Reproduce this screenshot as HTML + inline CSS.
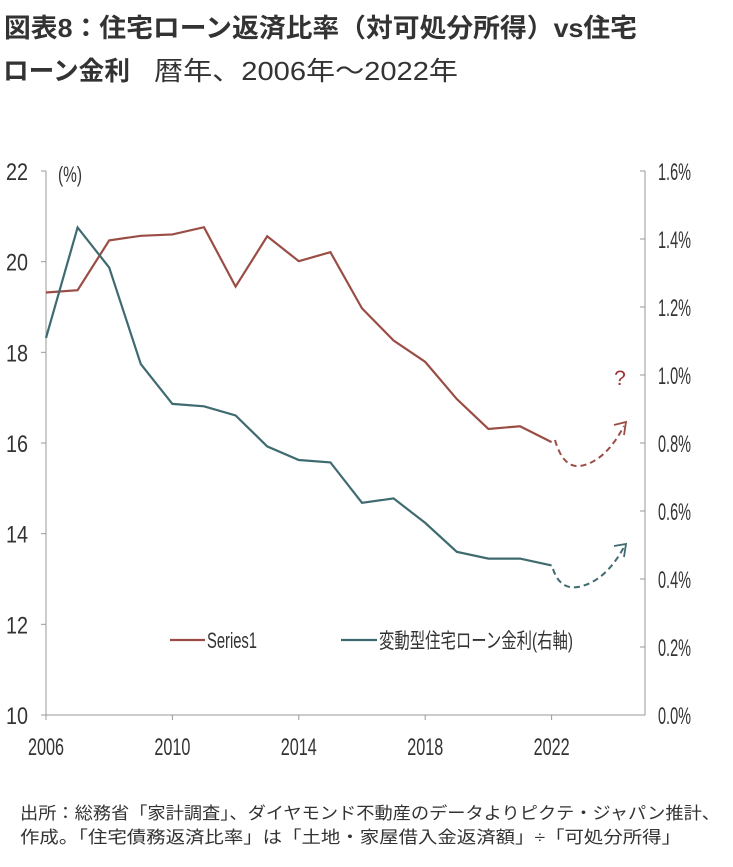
<!DOCTYPE html>
<html><head><meta charset="utf-8"><style>
body{margin:0;background:#fff;}
svg{display:block;font-family:"Liberation Sans","Noto Sans CJK JP",sans-serif;}
</style></head><body>
<svg width="733" height="867" viewBox="0 0 733 867">
<text x="4" y="37" font-size="26" font-weight="600" fill="#333" textLength="633" lengthAdjust="spacingAndGlyphs">図表8：住宅ローン返済比率（対可処分所得）vs住宅</text>
<text x="3" y="80" font-size="26" fill="#333"><tspan font-weight="600" textLength="127" lengthAdjust="spacingAndGlyphs">ローン金利</tspan><tspan x="154" textLength="304" lengthAdjust="spacingAndGlyphs">暦年、2006年～2022年</tspan></text>
<g id="plot"></g>
<text x="20" y="819" font-size="17" fill="#333" textLength="700" lengthAdjust="spacingAndGlyphs">出所：総務省「家計調査」、ダイヤモンド不動産のデータよりピクテ・ジャパン推計、</text>
<text x="20" y="843" font-size="17" fill="#333" textLength="661" lengthAdjust="spacingAndGlyphs">作成。「住宅債務返済比率」は「土地・家屋借入金返済額」÷「可処分所得」</text>
</svg>
<script>
const years=[2006,2007,2008,2009,2010,2011,2012,2013,2014,2015,2016,2017,2018,2019,2020,2021,2022];
const repaymentRatio=[19.32,19.37,20.47,20.57,20.6,20.76,19.45,20.56,20.01,20.21,18.97,18.26,17.79,16.97,16.31,16.37,16.02];
const loanRate=[1.109,1.434,1.316,1.032,0.915,0.908,0.881,0.790,0.750,0.743,0.624,0.637,0.565,0.480,0.460,0.460,0.440];
const xTicks=[2006,2010,2014,2018,2022];
const leftTicks=[10,12,14,16,18,20,22];
const rightTicks=[0,0.2,0.4,0.6,0.8,1.0,1.2,1.4,1.6];
const NS="http://www.w3.org/2000/svg";
const g=document.getElementById('plot');
const X0=46,Y0=715,Y1=171,XR=645;
const xs=y=>X0+(y-2006)*31.6;
const yl=v=>Y0-(v-10)/12*(Y0-Y1);
const yr=v=>Y0-v/1.6*(Y0-Y1);
function mk(t,a,txt){const e=document.createElementNS(NS,t);for(const k in a)e.setAttribute(k,a[k]);if(txt!=null)e.textContent=txt;g.appendChild(e);return e;}
let e=mk('line',{x1:X0,y1:Y1,x2:X0,y2:Y0,stroke:'#999','stroke-width':1});


e=mk('line',{x1:X0,y1:Y0,x2:XR,y2:Y0,stroke:'#999','stroke-width':1});


e=mk('line',{x1:XR,y1:Y1,x2:XR,y2:Y0,stroke:'#999','stroke-width':1});


leftTicks.forEach(v=>{
 const t=mk('line',{x1:X0-5,y1:yl(v),x2:X0,y2:yl(v),stroke:'#999'});
 
 
 const l=mk('text',{x:6,y:yl(v)+9,'font-size':24,fill:'#333',textLength:22,lengthAdjust:'spacingAndGlyphs'},String(v));
 
 
});
rightTicks.forEach(v=>{
 const t=mk('line',{x1:XR-5,y1:yr(v),x2:XR,y2:yr(v),stroke:'#999'});
 
 
 const l=mk('text',{x:658,y:yr(v)+9,'font-size':24,fill:'#333',textLength:33,lengthAdjust:'spacingAndGlyphs'},v.toFixed(1)+'%');
 
 
});
xTicks.forEach(v=>{
 const t=mk('line',{x1:xs(v),y1:Y0,x2:xs(v),y2:Y0+5,stroke:'#999'});
 
 
 const l=mk('text',{x:xs(v),y:Y0+40,'font-size':24,fill:'#333','text-anchor':'middle',textLength:36,lengthAdjust:'spacingAndGlyphs'},String(v));
 
 
});
e=mk('text',{x:58,y:182,'font-size':22,fill:'#333',textLength:24,lengthAdjust:'spacingAndGlyphs'},'(%)');


e=mk('polyline',{points:years.map((y,i)=>xs(y)+','+yl(repaymentRatio[i])).join(' '),fill:'none',stroke:'#9a4d45','stroke-width':2.2});


e=mk('polyline',{points:years.map((y,i)=>xs(y)+','+yr(loanRate[i])).join(' '),fill:'none',stroke:'#3f6b70','stroke-width':2.2});


e=mk('path',{d:'M555,440 Q563,468 580,466 Q605,462 624,426',fill:'none',stroke:'#9a4d45','stroke-width':2,'stroke-dasharray':'6,4'});


e=mk('path',{d:'M614,425 L626,422 L624,435',fill:'none',stroke:'#9a4d45','stroke-width':1.8});


e=mk('path',{d:'M553,569 Q560,590 578,587 Q605,582 624,547',fill:'none',stroke:'#3f6b70','stroke-width':2,'stroke-dasharray':'6,4'});


e=mk('path',{d:'M614,546 L626,544 L624,557',fill:'none',stroke:'#3f6b70','stroke-width':1.8});


e=mk('text',{x:620,y:385,'font-size':21,fill:'#a0303a','text-anchor':'middle'},'?');


e=mk('line',{x1:170,y1:640,x2:205,y2:640,stroke:'#9a4d45','stroke-width':2.2});


e=mk('text',{x:207,y:648,'font-size':22,fill:'#333',textLength:50,lengthAdjust:'spacingAndGlyphs'},'Series1');


e=mk('line',{x1:341,y1:640,x2:377,y2:640,stroke:'#3f6b70','stroke-width':2.2});


e=mk('text',{x:379,y:648,'font-size':21,fill:'#333',textLength:194,lengthAdjust:'spacingAndGlyphs'},'変動型住宅ローン金利(右軸)');


</script>
</body></html>
